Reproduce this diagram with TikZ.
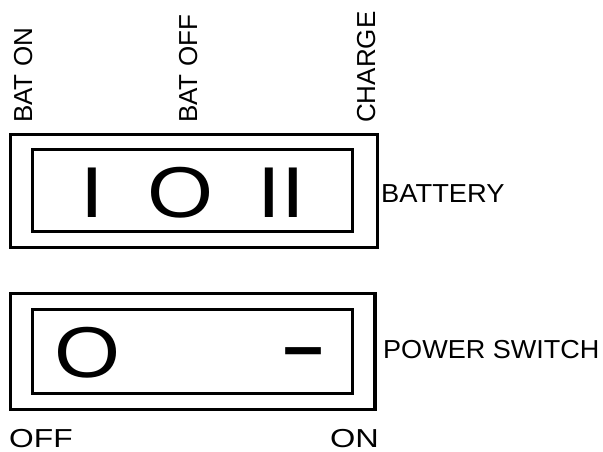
\documentclass[tikz,border=0pt]{standalone}
\usepackage{fontspec}
\setmainfont{Liberation Sans}
\tikzset{
            outerbox/.style={draw, line width=3.4pt},
            innerbox/.style={draw, line width=3.2pt},
            lbl/.style={font=\fontsize{26}{26}\selectfont},
            sym/.style={font=\fontsize{72}{72}\selectfont, anchor=base, xscale=1.18}
        }

\begin{document}
\begin{tikzpicture}[
                    x=1pt, y=-1pt,
                    every node/.style={inner sep=0pt}
                    ]
                \useasboundingbox (0,0) rectangle (603,452);
                % battery switch
                \node[outerbox, minimum width=367pt, minimum height=113pt] (batout) at (193.8,190.9) {};
                \node[innerbox, minimum width=320pt, minimum height=82.4pt] (batin) at (192.7,190.5) {};
                \node[sym] (symon) at (92,217) {I};
                \node[sym] (symoff) at (181,217) {O};
                \node[sym] (symchg) at (281.3,217) {II};
                \node[lbl, rotate=90, anchor=base west] (baton) at (32,123) {BAT ON};
                \node[lbl, rotate=90, anchor=base west] (batoff) at (197,123) {BAT OFF};
                \node[lbl, rotate=90, anchor=base west] (charge) at (375,123) {CHARGE};
                \node[lbl, anchor=base west, xscale=1.05] (battery) at (381,202) {BATTERY};
                % power switch
                \node[outerbox, minimum width=364.7pt, minimum height=116pt] (pwrout) at (192.7,351.5) {};
                \node[innerbox, minimum width=319.8pt, minimum height=83.8pt] (pwrin) at (192.6,351.4) {};
                \node[sym] (sympoff) at (87.5,377) {O};
                \node[sym, xscale=1/1.18, font=\fontsize{72}{72}\selectfont\bfseries] (sympon) at (304,370) {–};
                \node[lbl, anchor=base west, xscale=1.04] (power) at (383,358) {POWER SWITCH};
                \node[lbl, anchor=base west, xscale=1.22] (off) at (9,447.5) {OFF};
                \node[lbl, anchor=base east, xscale=1.25] (on) at (379,447.5) {ON};
            \end{tikzpicture}
\end{document}
